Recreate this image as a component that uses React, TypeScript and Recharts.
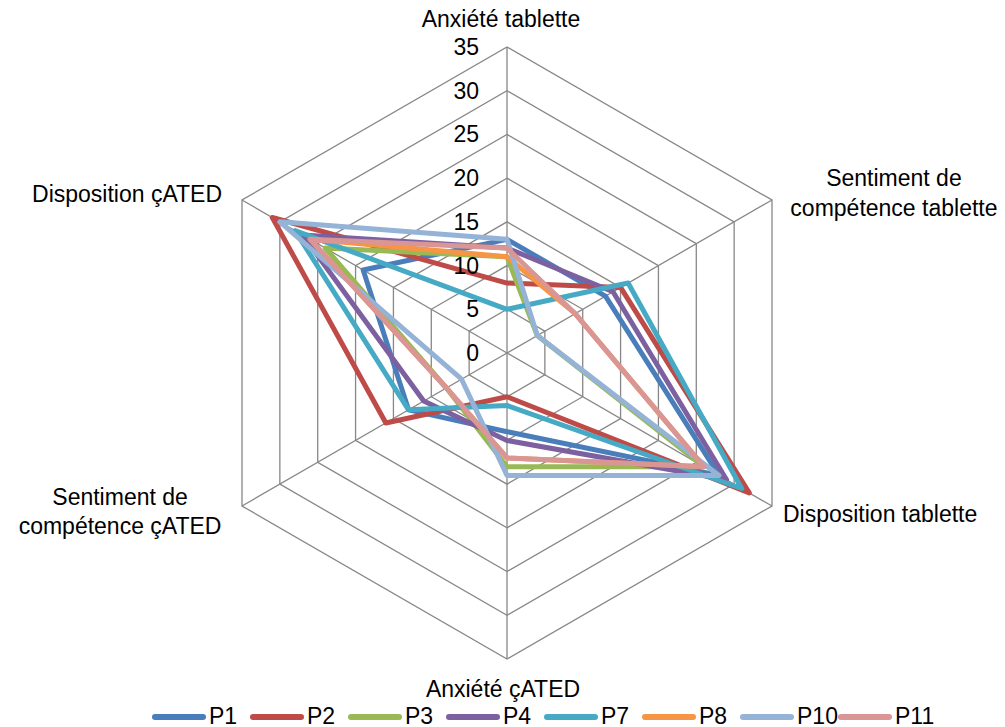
import { Legend, PolarAngleAxis, PolarGrid, PolarRadiusAxis, Radar, RadarChart } from "recharts";

const categories = [
  "Anxiété tablette",
  "Sentiment de\ncompétence tablette",
  "Disposition tablette",
  "Anxiété çATED",
  "Sentiment de\ncompétence çATED",
  "Disposition çATED",
];

const p1 = [13, 13, 28, 9, 13, 19];
const p2 = [8, 15, 32, 5, 16, 31];
const p3 = [11, 4, 26, 13, 8, 24];
const p4 = [12, 14, 29, 10, 11, 27];
const p7 = [5, 16, 31, 6, 13, 28];
const p8 = [11, 9, 26, 12, 8, 26];
const p10 = [13, 4, 28, 14, 6, 30];
const p11 = [12, 9, 26, 12, 8, 26];

const radiusTicks = [0, 5, 10, 15, 20, 25, 30, 35];

const series = [
  { key: "P1", values: p1, color: "#4A7EBB" },
  { key: "P2", values: p2, color: "#BE4B48" },
  { key: "P3", values: p3, color: "#98B954" },
  { key: "P4", values: p4, color: "#7D60A0" },
  { key: "P7", values: p7, color: "#46AAC5" },
  { key: "P8", values: p8, color: "#F69545" },
  { key: "P10", values: p10, color: "#95B3D7" },
  { key: "P11", values: p11, color: "#D99694" },
];

const data = categories.map((axis, i) => {
  const row: Record<string, string | number> = { axis };
  series.forEach((s) => {
    row[s.key] = s.values[i];
  });
  return row;
});

const FONT = "'Liberation Sans', Arial, sans-serif";

// label placement per axis, relative to the tick point
const labelLayout = [
  { anchor: "middle", dx: -6, dy: [-20] },
  { anchor: "middle", dx: 115, dy: [-18, 12] },
  { anchor: "start", dx: 4, dy: [4] },
  { anchor: "middle", dx: -4, dy: [22] },
  { anchor: "middle", dx: -115, dy: [-13, 16] },
  { anchor: "end", dx: -13, dy: [-2] },
];

function AngleTick(props: any) {
  const { x, y, payload } = props;
  const idx = categories.indexOf(payload.value);
  const layout = labelLayout[idx] ?? labelLayout[0];
  const lines = String(payload.value).split("\n");
  return (
    <g>
      {lines.map((line, i) => (
        <text
          key={i}
          x={x + layout.dx}
          y={y + layout.dy[i]}
          textAnchor={layout.anchor as any}
          dominantBaseline="central"
          fontFamily={FONT}
          fontSize={23}
          fill="#000"
        >
          {line}
        </text>
      ))}
    </g>
  );
}

function RadiusTick(props: any) {
  const { x, y, payload } = props;
  return (
    <text
      x={x - 28}
      y={y}
      textAnchor="end"
      dominantBaseline="central"
      fontFamily={FONT}
      fontSize={23}
      fill="#000"
    >
      {payload.value}
    </text>
  );
}

// legend keeps the series order instead of the library's sorted payload
function LegendContent() {
  return (
    <div style={{ display: "flex", alignItems: "center", fontFamily: FONT, fontSize: 23, color: "#000" }}>
      {series.map((s) => (
        <div key={s.key} style={{ display: "flex", alignItems: "center", width: 98 }}>
          <span
            style={{
              display: "inline-block",
              width: 54,
              height: 6,
              borderRadius: 3,
              background: s.color,
              marginRight: 3,
            }}
          />
          <span>{s.key}</span>
        </div>
      ))}
    </div>
  );
}

export default function App() {
  return (
    <div style={{ position: "absolute", left: 0, top: 0, width: 1005, height: 727, background: "#fff" }}>
      <RadarChart
        width={1005}
        height={727}
        data={data}
        cx={507}
        cy={353}
        outerRadius={306}
        margin={{ top: 0, right: 0, bottom: 0, left: 0 }}
      >
        <PolarGrid gridType="polygon" stroke="#878787" strokeWidth={1.3} />
        <PolarAngleAxis
          dataKey="axis"
          tick={<AngleTick />}
          tickLine={false}
          axisLine={false}
        />
        {series.map((s) => (
          <Radar
            key={s.key}
            name={s.key}
            dataKey={s.key}
            stroke={s.color}
            strokeWidth={5}
            strokeLinejoin="round"
            fill="none"
            fillOpacity={0}
            dot={false}
            legendType="line"
            isAnimationActive={false}
          />
        ))}
        <PolarRadiusAxis
          angle={90}
          domain={[0, 35]}
          ticks={radiusTicks as any}
          tickCount={8}
          axisLine={false}
          tickLine={false}
          tick={<RadiusTick />}
        />
        <Legend
          content={<LegendContent />}
          wrapperStyle={{ left: 152, top: 703, bottom: "auto", width: 820, height: 26 }}
        />
      </RadarChart>
    </div>
  );
}
